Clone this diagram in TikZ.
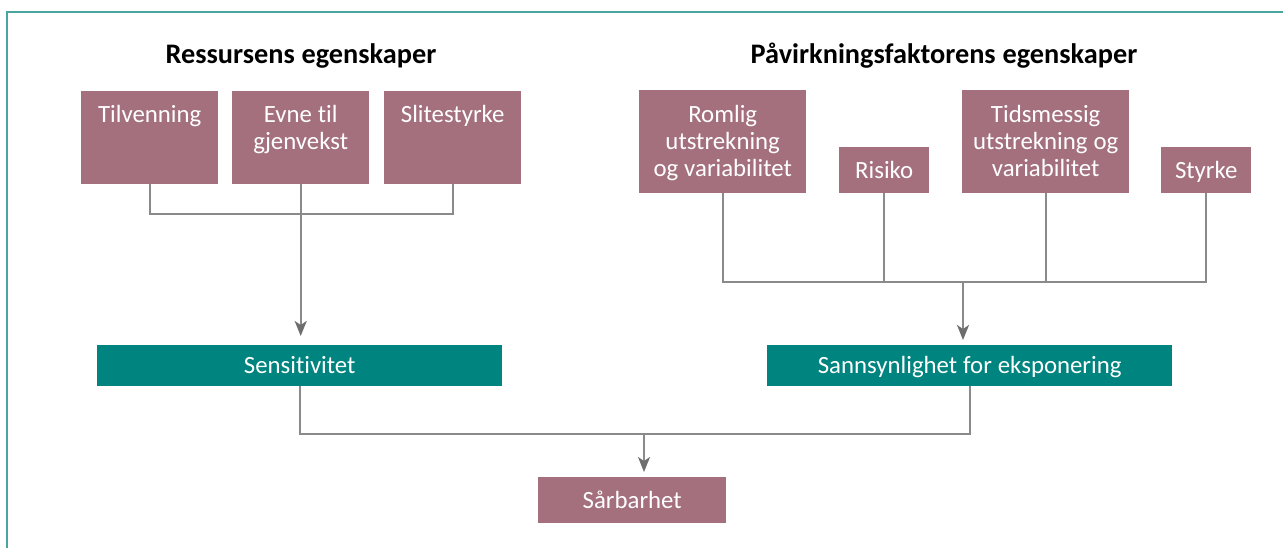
\documentclass[tikz,border=0pt]{standalone}
\usepackage{fontspec}
\setmainfont{Carlito}[RawFeature={-liga;-clig;-dlig;-calt}]
\usetikzlibrary{arrows.meta}
\definecolor{mauve}{HTML}{A4707E}
\definecolor{tealbox}{HTML}{00847F}
\definecolor{framec}{HTML}{4AA5A0}
\definecolor{linec}{HTML}{8A8A8A}
\definecolor{tipc}{HTML}{6E6E6E}
\tikzset{
  every node/.append style={execute at begin node={\spaceskip=0.24em\relax}},
  mbox/.style={fill=mauve, text=white, inner sep=0pt, align=center, anchor=north west,
    font=\fontsize{24.8}{27}\selectfont},
  gbox/.style={fill=tealbox, text=white, inner sep=0pt, align=center, anchor=north west,
    font=\fontsize{24.8}{27}\selectfont},
  ttl/.style={font=\bfseries\fontsize{28.3}{31}\selectfont, inner sep=0pt, anchor=base},
  conn/.style={draw=linec, line width=2pt},
  arr/.style={draw=linec, line width=2pt, -{Stealth[length=15pt,width=12pt,inset=4pt,color=tipc]}},
}
\begin{document}
\begin{tikzpicture}[x=1pt,y=-1pt]
\useasboundingbox (0,0) rectangle (1283,547);
\fill[white] (0,0) rectangle (1283,547);
\draw[framec, line width=2.2pt] (7,560) -- (7,12) -- (1300,12);

% titles
\node[ttl] (t1) at (301,63) {Ressursens egenskaper};
\node[ttl] (t2) at (944,63) {Påvirkningsfaktorens egenskaper};

% left boxes
\node[mbox, minimum width=137pt, text width=130pt, text height=31pt, text depth=62pt] (tilv) at (81,91) {Tilvenning};
\node[mbox, minimum width=137pt, text width=130pt, text height=31pt, text depth=62pt] (evne) at (232,91) {Evne til\\gjenvekst};
\node[mbox, minimum width=137pt, text width=130pt, text height=31pt, text depth=62pt] (slit) at (384,91) {Slitestyrke};

% right boxes
\node[mbox, minimum width=167pt, text width=160pt, text height=32pt, text depth=71pt] (roml) at (639,90) {Romlig\\utstrekning\\og variabilitet};
\node[mbox, minimum width=90pt, text width=86pt, text height=31pt, text depth=15pt] (risk) at (839,147) {Risiko};
\node[mbox, minimum width=167pt, text width=160pt, text height=32pt, text depth=71pt] (tids) at (962,90) {Tidsmessig\\utstrekning og\\variabilitet};
\node[mbox, minimum width=90pt, text width=86pt, text height=31pt, text depth=15pt] (styr) at (1161,147) {Styrke};

% green boxes
\node[gbox, minimum width=405pt, text width=400pt, text height=28pt, text depth=13pt] (sens) at (97,345) {Sensitivitet};
\node[gbox, minimum width=405pt, text width=400pt, text height=28pt, text depth=13pt] (sann) at (767,345) {Sannsynlighet for eksponering};

% result
\node[mbox, minimum width=188pt, text width=180pt, text height=31pt, text depth=15pt] (sar) at (538,477) {Sårbarhet};

% left tree
\coordinate (lj) at (0,214);
\draw[conn] (tilv.south) -- (tilv.south |- lj) -- (slit.south |- lj) -- (slit.south);
\draw[arr, shorten >=9pt] (evne.south) -- (evne.south |- sens.north);

% right tree
\coordinate (rj) at (0,282);
\draw[conn] (roml.south) -- (roml.south |- rj) -- (styr.south |- rj) -- (styr.south);
\draw[conn] (risk.south) -- (risk.south |- rj);
\draw[conn] (tids.south) -- (tids.south |- rj);
\coordinate (rmid) at (963,282);
\draw[arr, shorten >=5pt] (rmid) -- (rmid |- sann.north);

% bottom tree
\coordinate (bj) at (0,434);
\draw[conn] (sens.south) -- (sens.south |- bj) -- (sann.south |- bj) -- (sann.south);
\coordinate (bmid) at (644,434);
\draw[arr, shorten >=5pt] (bmid) -- (bmid |- sar.north);
\end{tikzpicture}
\end{document}
